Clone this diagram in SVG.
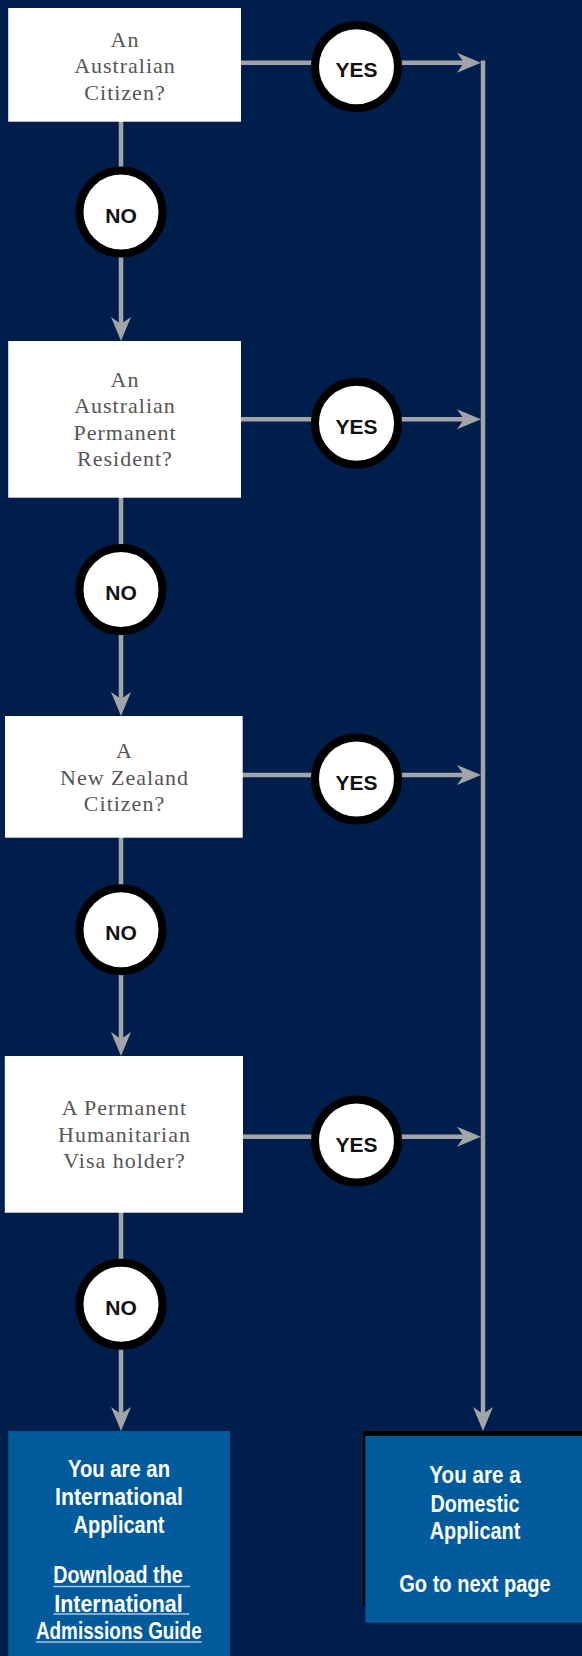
<svg xmlns="http://www.w3.org/2000/svg" width="582" height="1656" viewBox="0 0 582 1656">
<style>
.q{fill:#ffffff}
.qt{font-family:"Liberation Serif","Times New Roman",serif;font-size:22px;fill:#555555;text-anchor:middle;letter-spacing:1px}
.c{fill:none;stroke:#a1a4a9;stroke-width:4.5}
.ring{fill:#ffffff;stroke:#000000;stroke-width:8}
.lb{font-family:"Liberation Sans",Arial,sans-serif;font-weight:bold;font-size:21px;fill:#111111;text-anchor:middle}
.rt{font-family:"Liberation Sans",Arial,sans-serif;font-weight:bold;font-size:24px;fill:#ffffff;text-anchor:middle}
.ul{stroke:#a9c3de;stroke-width:1.6}
</style>
<defs>
<marker id="ah" markerUnits="userSpaceOnUse" viewBox="-25 -11 26 22" markerWidth="26" markerHeight="22" refX="-17" refY="0" orient="auto">
<path d="M0,0 L-24,-10 L-17,0 L-24,10 Z" fill="#a1a4a9"/>
</marker>
</defs>
<rect x="0" y="0" width="582" height="1656" fill="#001e4b"/>

<g id="connectors">
<path class="c" d="M121,121 V324" marker-end="url(#ah)"/>
<path class="c" d="M121,497 V699" marker-end="url(#ah)"/>
<path class="c" d="M121,837 V1039" marker-end="url(#ah)"/>
<path class="c" d="M121,1212 V1414" marker-end="url(#ah)"/>
<path class="c" d="M241,62.7 H464" marker-end="url(#ah)"/>
<path class="c" d="M241,419.3 H464" marker-end="url(#ah)"/>
<path class="c" d="M242,775 H464" marker-end="url(#ah)"/>
<path class="c" d="M243,1136.7 H464" marker-end="url(#ah)"/>
<path class="c" d="M483,60.5 V1414" marker-end="url(#ah)"/>
<g id="labels">
<circle class="ring" cx="356.5" cy="66.7" r="41.5"/><text class="lb" x="356.5" y="77.3">YES</text>
<circle class="ring" cx="356.5" cy="423.3" r="41.5"/><text class="lb" x="356.5" y="434">YES</text>
<circle class="ring" cx="356.5" cy="779" r="41.5"/><text class="lb" x="356.5" y="789.7">YES</text>
<circle class="ring" cx="356.5" cy="1141" r="41.5"/><text class="lb" x="356.5" y="1151.5">YES</text>
<circle class="ring" cx="121" cy="212" r="41.5"/><text class="lb" x="121" y="222.7">NO</text>
<circle class="ring" cx="121" cy="589.5" r="41.5"/><text class="lb" x="121" y="600">NO</text>
<circle class="ring" cx="121" cy="929.7" r="41.5"/><text class="lb" x="121" y="940.3">NO</text>
<circle class="ring" cx="121" cy="1304.3" r="41.5"/><text class="lb" x="121" y="1315">NO</text>
</g>
</g>

<g id="q1">
<rect class="q" x="8.2" y="8" width="232.8" height="113.7"/>
<text class="qt" x="125" y="46.7">An</text>
<text class="qt" x="125" y="73.3">Australian</text>
<text class="qt" x="125" y="100">Citizen?</text>
</g>
<g id="q2">
<rect class="q" x="8.2" y="341" width="232.8" height="156.7"/>
<text class="qt" x="125" y="386.7">An</text>
<text class="qt" x="125" y="413.3">Australian</text>
<text class="qt" x="125" y="440">Permanent</text>
<text class="qt" x="125" y="466">Resident?</text>
</g>
<g id="q3">
<rect class="q" x="5" y="716" width="237.7" height="121.7"/>
<text class="qt" x="124.5" y="758.3">A</text>
<text class="qt" x="124.5" y="785">New Zealand</text>
<text class="qt" x="124.5" y="810.7">Citizen?</text>
</g>
<g id="q4">
<rect class="q" x="4.8" y="1056" width="238.2" height="156.7"/>
<text class="qt" x="124.5" y="1115">A Permanent</text>
<text class="qt" x="124.5" y="1141.7">Humanitarian</text>
<text class="qt" x="124.5" y="1168.3">Visa holder?</text>
</g>

<g id="international">
<rect x="8.2" y="1431" width="221.8" height="225" fill="#005a9c"/>
<text class="rt" x="119" y="1476.7" textLength="102" lengthAdjust="spacingAndGlyphs">You are an</text>
<text class="rt" x="119" y="1505" textLength="128" lengthAdjust="spacingAndGlyphs">International</text>
<text class="rt" x="119" y="1532.7" textLength="91" lengthAdjust="spacingAndGlyphs">Applicant</text>
<text class="rt" x="118" y="1583.3" textLength="129.4" lengthAdjust="spacingAndGlyphs">Download the</text>
<text class="rt" x="118.5" y="1611.7" textLength="128.4" lengthAdjust="spacingAndGlyphs">International</text>
<text class="rt" x="118.8" y="1639.3" textLength="165.7" lengthAdjust="spacingAndGlyphs">Admissions Guide</text>
<line class="ul" x1="53.3" y1="1586.5" x2="190" y2="1586.5"/>
<line class="ul" x1="53.3" y1="1614" x2="189.3" y2="1614"/>
<line class="ul" x1="36" y1="1642" x2="201.7" y2="1642"/>
</g>

<g id="domestic">
<rect x="363" y="1431" width="219" height="174.7" fill="#000000"/>
<rect x="365.3" y="1436" width="216.7" height="186.7" fill="#005a9c"/>
<text class="rt" x="475" y="1483.3" textLength="91.3" lengthAdjust="spacingAndGlyphs">You are a</text>
<text class="rt" x="475" y="1511.7" textLength="89" lengthAdjust="spacingAndGlyphs">Domestic</text>
<text class="rt" x="475" y="1539.3" textLength="90.6" lengthAdjust="spacingAndGlyphs">Applicant</text>
<text class="rt" x="475" y="1591.7" textLength="151.5" lengthAdjust="spacingAndGlyphs">Go to next page</text>
</g>
</svg>
